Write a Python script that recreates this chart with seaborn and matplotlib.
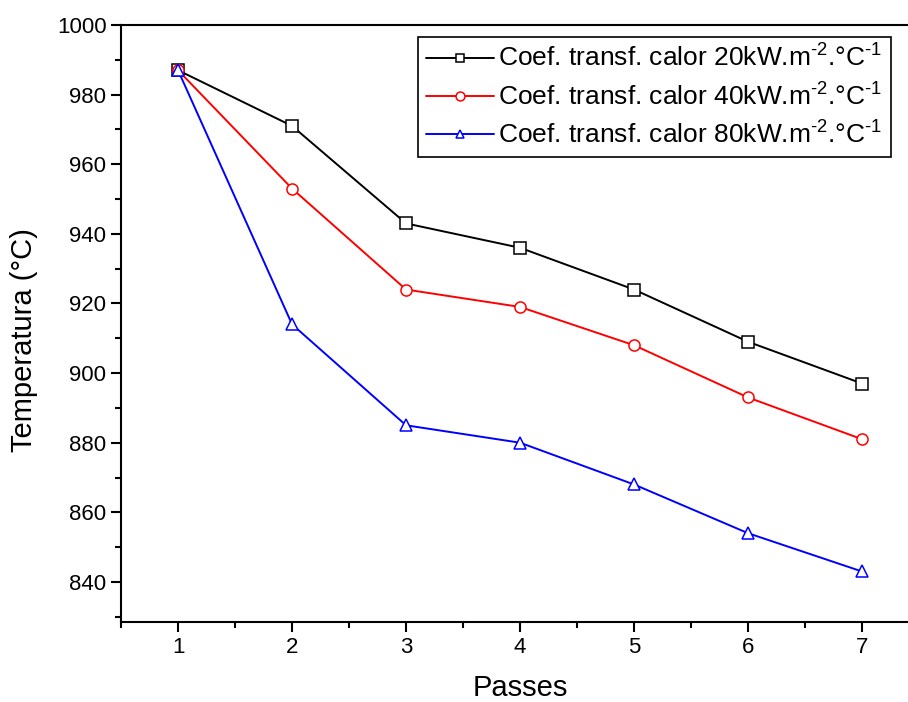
import numpy as np
import pandas as pd
import seaborn as sns
import matplotlib.pyplot as plt
from matplotlib.ticker import MultipleLocator

passes = [1, 2, 3, 4, 5, 6, 7]
temp_20 = [987, 971, 943, 936, 924, 909, 897]
temp_40 = [987, 953, 924, 919, 908, 893, 881]
temp_80 = [987, 914, 885, 880, 868, 854, 843]
labels = ["Coef. transf. calor 20kW.m$^{\u2010 2}$.°C$^{\u2010 1}$",
          "Coef. transf. calor 40kW.m$^{\u2010 2}$.°C$^{\u2010 1}$",
          "Coef. transf. calor 80kW.m$^{\u2010 2}$.°C$^{\u2010 1}$"]

sns.set_style("ticks")
plt.rcParams["font.family"] = ["Liberation Sans", "DejaVu Sans"]
plt.rcParams["mathtext.default"] = "regular"
plt.rcParams["text.color"] = "black"
plt.rcParams["axes.labelcolor"] = "black"
plt.rcParams["xtick.color"] = "black"
plt.rcParams["ytick.color"] = "black"

fig = plt.figure(figsize=(9.08, 7.02), dpi=100)
ax = fig.add_axes([0.1333, 0.114, 0.8789, 0.8504])

series = [(temp_20, "black", "s"), (temp_40, "red", "o"), (temp_80, "blue", "^")]
for (vals, col, mk), lab in zip(series, labels):
    df = pd.DataFrame({"Passes": passes, "Temp": vals})
    sns.lineplot(data=df, x="Passes", y="Temp", ax=ax, color=col, marker=mk,
                 markersize=8, mfc="white", mec=col, mew=1.1, lw=1.4, label=lab)

ax.set_xlim(0.5, 7.5)
ax.set_ylim(828.5, 1000)
ax.xaxis.set_major_locator(MultipleLocator(1))
ax.xaxis.set_minor_locator(MultipleLocator(0.5))
ax.yaxis.set_major_locator(MultipleLocator(20))
ax.yaxis.set_minor_locator(MultipleLocator(10))
ax.set_yticks(np.arange(840, 1001, 20))
ax.tick_params(which="major", length=7, width=1.5, labelsize=16, direction="out")
ax.tick_params(which="minor", length=4, width=1.5, direction="out")
for s in ax.spines.values():
    s.set_linewidth(1.5)
    s.set_color("black")

ax.set_xlabel("Passes", fontsize=21, labelpad=12)
ax.set_ylabel("Temperatura (°C)", fontsize=21)
ax.yaxis.set_label_coords(-0.104, 0.472)

leg = ax.legend(loc="upper left", bbox_to_anchor=(0.372, 0.98), fontsize=19,
                frameon=True, fancybox=False, edgecolor="black", framealpha=1,
                handlelength=2.6, handletextpad=0.15, borderpad=0.3, labelspacing=0.42,
                borderaxespad=0, markerscale=0.8)
leg.get_frame().set_linewidth(1.2)

fig.savefig("out.png", dpi=100)
